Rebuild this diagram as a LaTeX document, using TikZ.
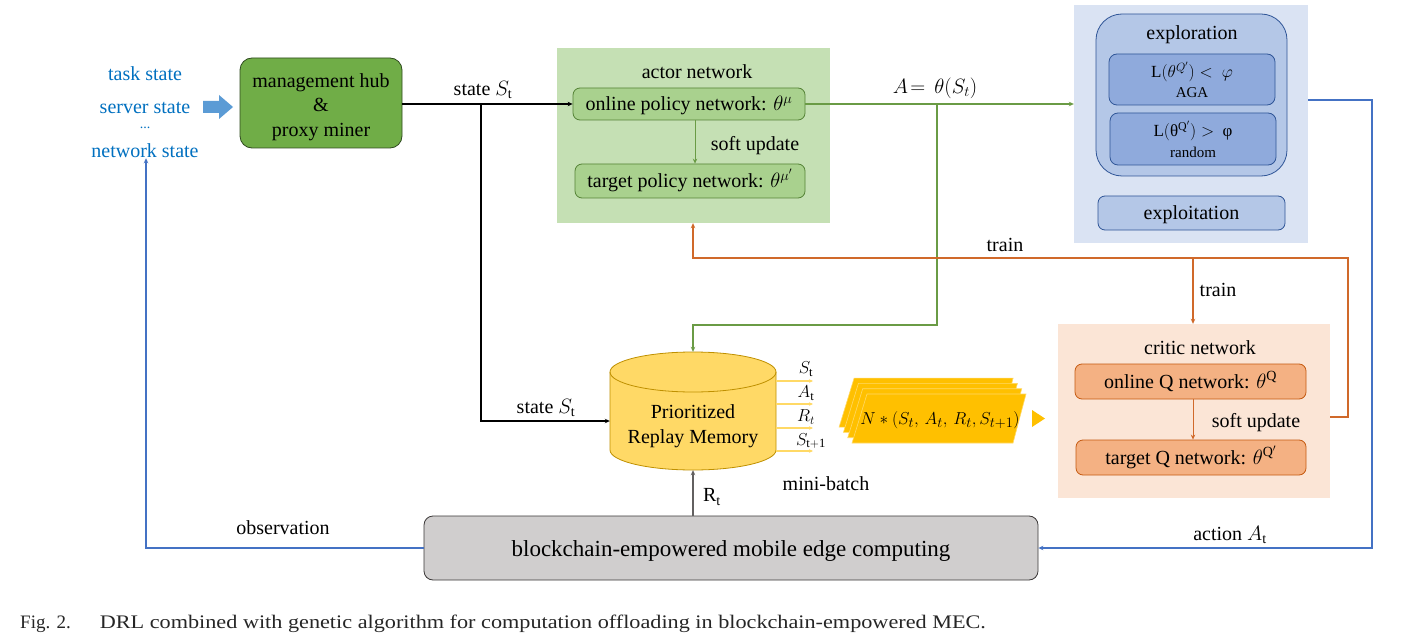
\documentclass[tikz,border=0pt]{standalone}
\usepackage{fontspec}
\usepackage{graphicx}
\setmainfont{Liberation Serif}
\usetikzlibrary{arrows.meta}
\definecolor{txtblue}{HTML}{0070C0}
\definecolor{arrblue}{HTML}{5B9BD5}
\definecolor{hubgreen}{HTML}{70AD47}
\definecolor{hubedge}{HTML}{2F4A1F}
\definecolor{actbg}{HTML}{C5E0B4}
\definecolor{actbox}{HTML}{A9D18E}
\definecolor{actedge}{HTML}{548235}
\definecolor{lgreen}{HTML}{6A9B45}
\definecolor{expbg}{HTML}{DAE3F3}
\definecolor{expbox}{HTML}{B4C7E7}
\definecolor{expin}{HTML}{8FAADC}
\definecolor{expedge}{HTML}{2F5597}
\definecolor{lblue}{HTML}{4472C4}
\definecolor{lorange}{HTML}{D0692A}
\definecolor{critbg}{HTML}{FBE5D6}
\definecolor{critbox}{HTML}{F4B183}
\definecolor{critedge}{HTML}{C55A11}
\definecolor{memfill}{HTML}{FFD966}
\definecolor{memedge}{HTML}{BF9000}
\definecolor{stackfill}{HTML}{FFC000}
\definecolor{bcfill}{HTML}{D0CECE}
\definecolor{bcedge}{HTML}{3B3838}
\begin{document}
\begin{tikzpicture}[x=1pt,y=-1pt,
  every node/.style={font=\fontsize{20}{24}\selectfont, inner sep=0pt},
  box/.style={draw, rounded corners=7pt, line width=0.8pt, align=center, text height=17pt, text depth=3.5pt},
  bg/.style={draw=none},
  arr/.style={-{Stealth[length=5pt,width=4.5pt]}, line width=1.2pt}
]
\useasboundingbox (0,0) rectangle (1426,639);
\fill[white] (0,0) rectangle (1426,639);

% left inputs
\node[text=txtblue] (tstate) at (145,74) {task state};
\node[text=txtblue] (sstate) at (145,108) {server state};
\node[text=txtblue, font=\fontsize{14}{16}\selectfont] (dots) at (145,128) {...};
\node[text=txtblue] (nstate) at (145,151) {network state};
\fill[arrblue] (203,101)--(219,101)--(219,95)--(233,107)--(219,119)--(219,113)--(203,113)--cycle;

% hub
\node[draw, fill=hubgreen, draw=hubedge, line width=0.8pt, rounded corners=12pt, minimum width=162pt, minimum height=90pt] (hub) at (321,103) {};
\node[align=center, font=\fontsize{20}{24.5}\selectfont] (hubtxt) at (321,107) {management hub\\\&\\proxy miner};

% actor
\node[bg, fill=actbg, minimum width=273pt, minimum height=175pt] (actbg) at (693.5,135.5) {};
\node (acttitle) at (697,72) {actor network};
\node[box, fill=actbox, draw=actedge, minimum width=232pt, minimum height=32pt] (online) at (689,104) {online policy network: $\theta^{\mu}$};
\node[box, fill=actbox, draw=actedge, minimum width=230pt, minimum height=34pt] (target) at (690,181) {target policy network: $\theta^{\mu'}$};
\draw[arr, lgreen, line width=1pt] (online.south -| 695,0) -- (target.north -| 695,0);
\node (su1) at (755,146) {soft update};

% exploration
\node[bg, fill=expbg, minimum width=234pt, minimum height=238pt] (expbg) at (1191,124) {};
\node[draw, fill=expbox, draw=expedge, line width=0.8pt, rounded corners=26pt, minimum width=191pt, minimum height=162pt] (explbox) at (1191.5,95) {};
\node (exptitle) at (1192,35) {exploration};
\node[draw, fill=expin, draw=expedge, line width=0.8pt, rounded corners=8pt, minimum width=166pt, minimum height=51pt] (in1) at (1192,79.5) {};
\node[font=\fontsize{17}{20}\selectfont] (in1a) at (1192,72) {L$\bigl(\theta^{Q'}\bigr) <\ \varphi$};
\node[font=\fontsize{15}{18}\selectfont] (in1b) at (1192,93) {AGA};
\node[draw, fill=expin, draw=expedge, line width=0.8pt, rounded corners=8pt, minimum width=166pt, minimum height=52pt] (in2) at (1193,139) {};
\node[font=\fontsize{17}{20}\selectfont] (in2a) at (1193,131) {L$\bigl($θ$^{\mathrm{Q}'}\bigr) >$ \ φ};
\node[font=\fontsize{15}{18}\selectfont] (in2b) at (1193,152) {random};
\node[box, fill=expbox, draw=expedge, minimum width=187pt, minimum height=34pt] (exploit) at (1191.5,213) {exploitation};

% critic
\node[bg, fill=critbg, minimum width=272pt, minimum height=174pt] (critbg) at (1194,411) {};
\node (crittitle) at (1200,348) {critic network};
\node[box, fill=critbox, draw=critedge, minimum width=231pt, minimum height=35pt] (onQ) at (1190.5,381.5) {online Q network: $\theta^{\mathrm{Q}}$};
\node[box, fill=critbox, draw=critedge, minimum width=230pt, minimum height=35pt] (tgQ) at (1191,457.5) {target Q network: $\theta^{\mathrm{Q}'}$};
\draw[arr, lorange, line width=1pt] (onQ.south -| 1193,0) -- (tgQ.north -| 1193,0);
\node (su2) at (1256,423) {soft update};

% replay memory cylinder
\fill[memfill] (610,372) -- (610,450) arc (180:0:83 and 20) -- (776,372) arc (0:-180:83 and 20) -- cycle;
\draw[memedge, line width=0.8pt] (610,372) -- (610,450) arc (180:0:83 and 20) -- (776,372);
\draw[memedge, line width=0.8pt] (693,372) ellipse (83 and 20);
\node[minimum width=166pt, minimum height=118pt, align=center, font=\fontsize{20}{25}\selectfont] (mem) at (693,411) {\\[19pt]Prioritized\\Replay Memory};

% output lines from memory
\foreach \yy/\nm in {381/o1,404/o2,428/o3,451/o4}{
  \coordinate (\nm s) at (776,\yy);
  \coordinate (\nm e) at (813,\yy);
  \draw[-{Stealth[length=4pt,width=3.5pt]}, memfill, line width=1.2pt] (\nm s) -- (\nm e);
}
\node[font=\fontsize{18}{20}\selectfont] (l1) at (806,369) {$S_{\mathrm{t}}$};
\node[font=\fontsize{18}{20}\selectfont] (l2) at (806,393) {$A_{\mathrm{t}}$};
\node[font=\fontsize{18}{20}\selectfont] (l3) at (806,417) {$R_{t}$};
\node[font=\fontsize{18}{20}\selectfont] (l4) at (811,441) {$S_{\mathrm{t+1}}$};

% mini-batch stack
\foreach \i in {3,2,1,0}{
  \fill[stackfill, draw=memfill, line width=0.6pt, shift={(-4.3*\i,-5.3*\i)}]
    (867,394) -- (1026,394) -- (1013,443) -- (852,443) -- cycle;
}
\node[font=\fontsize{19}{20}\selectfont] (batch) at (940,420) {$N*(S_t,\,A_t,\,R_t,S_{t+1})$};
\fill[stackfill] (1032,410) -- (1045,418.5) -- (1032,427) -- cycle;
\node (mb) at (826,484) {mini-batch};

% blockchain
\node[box, fill=bcfill, draw=bcedge, rounded corners=9pt, minimum width=614pt, minimum height=64pt,
  font=\fontsize{23}{26}\selectfont, text height=20pt, text depth=4pt] (bc) at (731,548) {blockchain-empowered mobile edge computing};

% connectors
\coordinate (sbr) at (481,104);
\draw[arr, black, line width=1.1pt] (hub.east |- sbr) -- (online.west |- sbr);
\node (stl1) at (483,90) {state $S_{\mathrm{t}}$};
\coordinate (sbr2) at (481,421);
\draw[arr, black, line width=1.1pt] (sbr) -- (sbr2) -- (mem.west |- sbr2);
\node (stl2) at (546,408) {state $S_{\mathrm{t}}$};

\coordinate (abr) at (937,104);
\coordinate (abr2) at (937,325);
\draw[arr, lgreen] (online.east |- abr) -- (expbg.west |- abr);
\draw[arr, lgreen] (abr) -- (abr2) -- (mem.north |- abr2) -- (mem.north);
\node (al) at (935,88) {$A\!=\,\theta(S_t)$};

\coordinate (ex1) at (1372,100);
\coordinate (ex2) at (1372,548);
\draw[arr, lblue] (expbg.east |- ex1) -- (ex1) -- (ex2) -- (bc.east);
\node (actl) at (1230,535) {action $A_{\mathrm{t}}$};

\coordinate (tr1) at (1348,417);
\coordinate (tr2) at (1348,258);
\coordinate (tr3) at (693,258);
\coordinate (tr4) at (1193,258);
\draw[arr, lorange] (critbg.east |- tr1) -- (tr1) -- (tr2) -- (tr3) -- (actbg.south -| tr3);
\draw[arr, lorange] (tr4) -- (critbg.north -| tr4);
\node (trl1) at (1005,245) {train};
\node (trl2) at (1218,290) {train};

\draw[arr, bcedge!80, line width=1.1pt] (bc.north -| mem.south) -- (mem.south);
\node (rl) at (712,497) {R$_{\mathrm{t}}$};

\coordinate (ob1) at (146,548);
\draw[arr, lblue] (bc.west) -- (ob1) -- (nstate.south -| ob1);
\node (obl) at (283,528) {observation};

% caption
\node[anchor=west, font=\fontsize{19}{22}\selectfont, text=black!85] (cap) at (20,624) {Fig. 2.\hspace{29pt}\resizebox{886pt}{13.5pt}{DRL combined with genetic algorithm for computation offloading in blockchain-empowered MEC.}};
\end{tikzpicture}
\end{document}
